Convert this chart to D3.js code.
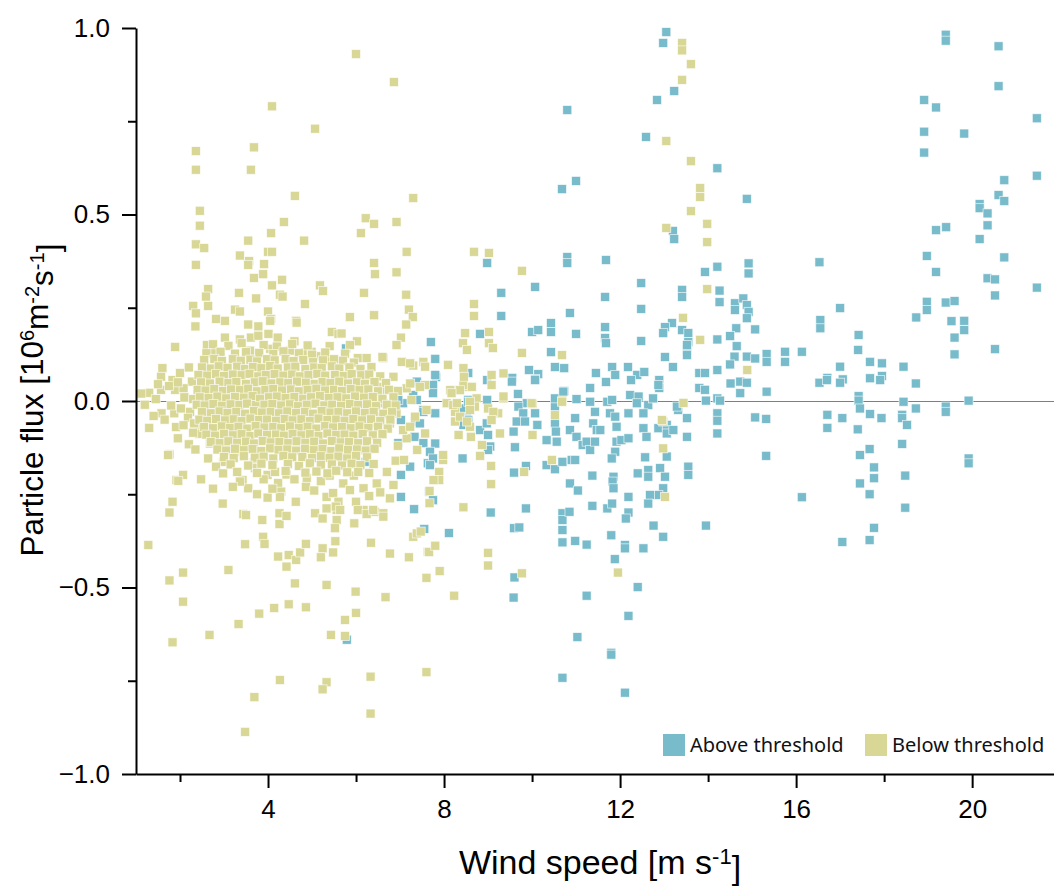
<!DOCTYPE html>
<html>
<head>
<meta charset="utf-8">
<script src="https://cdn.jsdelivr.net/npm/d3@7"></script>
<style>
  html, body { margin: 0; padding: 0; background: #fff; }
  svg { display: block; }
</style>
</head>
<body>
<svg id="chart" width="1054" height="888"></svg>
<script>
// Particle flux vs wind speed, split by a wind-speed threshold.
const seriesNames = ["Above threshold", "Below threshold"];
const seriesColors = ["#78bbcb", "#d8d795"];

const xMajorTicks = [4, 8, 12, 16, 20];
const xMinorTicks = [2, 6, 10, 14, 18];
const yMajorTicks = [-1.0, -0.5, 0.0, 0.5, 1.0];
const yMinorTicks = [-0.75, -0.25, 0.25, 0.75];

// [wind speed (m/s), particle flux (10^6 m^-2 s^-1)]
const aboveThreshold = [
  [13.05,0.989],[12.98,0.96],[13.23,0.831],[12.84,0.807],[10.8,0.78],[12.59,0.708],[10.68,0.568],[11.0,0.59],
  [13.2,0.456],[13.23,0.434],[10.8,0.386],[10.8,0.37],[11.68,0.378],[8.98,0.37],[10.07,0.306],[12.48,0.316],
  [13.41,0.298],[13.41,0.279],[9.3,0.29],[11.66,0.279],[9.3,0.228],[10.86,0.236],[12.48,0.247],[10.43,0.209],
  [10.43,0.185],[10.0,0.185],[10.14,0.19],[11.0,0.18],[11.66,0.198],[11.66,0.169],[11.68,0.155],[12.48,0.161],
  [13.18,0.209],[13.02,0.198],[12.98,0.182],[13.41,0.19],[13.55,0.182],[13.55,0.158],[13.52,0.137],[13.52,0.123],
  [13.52,0.15],[13.93,0.346],[8.82,0.18],[7.7,0.158],[7.8,0.113],[10.43,0.131],[10.52,0.091],[10.73,0.088],
  [9.93,0.083],[10.14,0.072],[10.07,0.059],[9.55,0.062],[11.45,0.075],[11.82,0.091],[11.89,0.07],[11.68,0.051],
  [12.18,0.091],[12.39,0.07],[12.55,0.078],[12.25,0.056],[12.89,0.056],[12.89,0.035],[13.2,0.091],[13.02,0.118],
  [13.8,0.075],[13.8,0.035],[11.32,0.035],[10.73,0.027],[9.68,0.019],[8.55,0.075],[7.82,0.064],[7.39,0.048],
  [7.75,0.035],[8.98,0.056],[7.8,0.07],[7.07,-0.006],[8.55,0.003],[8.52,-0.042],[9.88,-0.006],[10.52,-0.015],
  [10.98,-0.046],[13.32,-0.024],[5.77,0.141],[13.93,0.075],[13.93,0.03],
  [19.4,0.982],[19.4,0.966],[20.6,0.951],[20.6,0.844],[18.91,0.807],[19.18,0.787],[21.47,0.758],[18.91,0.722],
  [19.82,0.717],[18.91,0.666],[14.21,0.624],[21.47,0.604],[20.73,0.592],[14.88,0.542],[20.6,0.552],[20.73,0.536],
  [20.17,0.528],[20.17,0.517],[20.35,0.503],[20.35,0.471],[19.18,0.458],[19.41,0.466],[20.17,0.434],[18.97,0.389],
  [20.73,0.385],[19.18,0.346],[20.35,0.329],[20.52,0.326],[20.52,0.283],[21.47,0.304],[18.97,0.266],[18.97,0.244],
  [18.73,0.224],[19.4,0.264],[19.6,0.268],[19.53,0.214],[19.82,0.215],[19.82,0.19],[19.6,0.17],[19.6,0.125],
  [20.52,0.139],[14.21,0.36],[14.92,0.369],[14.92,0.342],[16.53,0.372],[14.26,0.296],[14.26,0.265],[14.61,0.262],
  [14.61,0.244],[14.8,0.275],[14.88,0.257],[14.92,0.239],[14.88,0.222],[15.07,0.192],[14.64,0.195],[14.5,0.174],
  [14.21,0.165],[14.65,0.147],[14.6,0.119],[14.5,0.098],[14.21,0.083],[14.88,0.119],[15.07,0.114],[15.33,0.126],
  [15.33,0.105],[15.75,0.132],[15.75,0.105],[16.13,0.132],[16.55,0.217],[16.55,0.195],[17.0,0.249],[17.42,0.177],
  [17.41,0.137],[17.68,0.105],[17.95,0.101],[17.95,0.067],[17.68,0.061],[18.44,0.092],[18.72,0.047],[17.0,0.092],
  [17.06,0.058],[16.71,0.062],[16.53,0.049],
  [14.51,0.047],[14.73,0.052],[14.88,0.049],[14.73,0.021],[15.33,0.025],[14.21,0.007],[14.27,0.001],[14.21,-0.033],
  [14.21,-0.053],[14.21,-0.087],[15.07,-0.044],[15.32,-0.048],[15.32,-0.147],[16.13,-0.258],[16.7,0.056],[17.0,0.049],
  [16.71,-0.037],[16.71,-0.072],[17.05,-0.046],[17.42,0.013],[17.42,0.001],[17.45,-0.02],[17.68,-0.035],[17.94,-0.046],
  [17.4,-0.076],[17.67,-0.129],[17.45,-0.145],[17.77,-0.178],[17.77,-0.207],[17.45,-0.221],[17.67,-0.25],[17.77,-0.34],
  [17.67,-0.373],[17.05,-0.378],[18.44,-0.002],[18.72,-0.02],[18.41,-0.037],[18.41,-0.046],[18.52,-0.064],[18.41,-0.115],
  [18.48,-0.2],[18.48,-0.286],[19.4,-0.015],[19.4,-0.029],[19.92,0.001],[19.92,-0.154],[19.92,-0.167],[17.91,0.056],
  [6.32,-0.011],[5.79,-0.14],[6.22,-0.131],[6.22,-0.163],[6.96,0.003],[7.02,-0.051],[6.96,-0.113],[7.3,0.016],
  [7.38,0.052],[7.34,-0.055],[7.45,-0.06],[7.33,-0.096],[7.53,-0.024],[7.53,-0.113],[7.23,-0.176],[7.02,-0.198],
  [7.02,-0.257],[7.32,-0.29],[7.63,-0.167],[7.66,-0.243],[5.79,-0.64],[7.55,-0.343],
  [7.75,0.043],[7.75,0.021],[7.38,0.003],[7.53,-0.029],[7.8,-0.033],[7.8,-0.114],[7.68,-0.136],[7.75,-0.154],
  [7.68,-0.172],[7.75,-0.266],[8.11,-0.354],[8.42,-0.154],[8.44,-0.02],[8.55,-0.051],[8.44,-0.064],[8.82,-0.078],
  [8.97,-0.06],[9.0,-0.091],[9.05,-0.122],[9.0,-0.131],[8.98,0.003],[8.55,-0.002],[9.06,-0.299],[9.54,0.052],
  [9.69,-0.015],[9.8,-0.033],[9.65,-0.055],[9.84,-0.055],[9.58,-0.082],[10.07,-0.033],[10.12,-0.064],[9.61,-0.124],
  [9.86,-0.174],[9.59,-0.192],[9.86,-0.288],[9.59,-0.341],[9.71,-0.339],[9.6,-0.473],[9.58,-0.527],[10.07,0.056],
  [10.33,-0.105],[10.52,-0.06],[10.54,-0.082],[10.56,-0.109],[10.52,0.007],[10.71,0.025],[11.01,0.005],[10.33,-0.172],
  [10.52,-0.183],[10.69,-0.163],[10.9,-0.158],[10.98,-0.158],[10.86,-0.078],[11.01,-0.096],[11.15,-0.118],[11.24,-0.109],
  [11.32,-0.131],[11.43,-0.109],[11.39,-0.06],[11.47,-0.078],[11.55,-0.078],[11.43,-0.029],[11.32,-0.002],[11.71,-0.002],
  [11.82,0.003],[11.77,-0.033],[11.89,-0.042],[11.92,-0.069],[12.19,-0.033],[12.23,0.016],[12.42,0.012],[12.38,-0.006],
  [12.64,-0.011],[12.75,0.007],[12.53,-0.033],[12.53,-0.073],[12.6,-0.096],[12.87,-0.073],[13.06,-0.064],[13.06,-0.087],
  [13.21,-0.078],[13.29,-0.015],[13.52,-0.046],[13.52,-0.096],[12.87,0.043],[13.95,0.001],[11.92,-0.109],[12.03,-0.105],
  [12.19,-0.1],[11.89,-0.136],[11.81,-0.154],[11.85,-0.203],[11.83,-0.216],[11.85,-0.234],[11.37,-0.2],[11.37,-0.281],
  [10.86,-0.221],[11.04,-0.24],[11.71,-0.288],[11.82,-0.275],[12.19,-0.257],[12.19,-0.299],[12.13,-0.315],[12.57,-0.151],
  [12.64,-0.185],[12.64,-0.203],[12.91,-0.18],[13.02,-0.203],[12.98,-0.234],[12.87,-0.252],[12.68,-0.252],[12.64,-0.275],
  [12.4,-0.194],[13.06,-0.149],[13.55,-0.176],[13.55,-0.198],[10.69,-0.301],[10.69,-0.319],[10.69,-0.346],[10.85,-0.297],
  [10.69,-0.379],[10.98,-0.375],[11.24,-0.385],[11.8,-0.36],[12.11,-0.386],[12.11,-0.395],[11.88,-0.424],[12.53,-0.395],
  [12.76,-0.334],[12.98,-0.364],[13.95,-0.334],[12.4,-0.499],[11.24,-0.522],[12.19,-0.576],[11.03,-0.633],[11.8,-0.675],
  [11.8,-0.68],[10.69,-0.742],[12.11,-0.782]
];

const belowThreshold = [
  // scattered points above the main cluster
  [6.0,0.93],[6.86,0.855],[4.09,0.79],[5.07,0.73],[3.68,0.68],[2.36,0.67],[2.36,0.62],[3.61,0.62],[4.61,0.55],
  [4.36,0.48],[4.07,0.45],[4.82,0.43],[3.55,0.43],[2.45,0.51],[2.45,0.47],[2.36,0.42],[2.55,0.41],[3.36,0.39],
  [3.57,0.375],[4.0,0.40],[4.09,0.40],[2.36,0.365],[3.91,0.367],[3.68,0.33],[3.89,0.34],[4.09,0.31],[4.32,0.325],
  [5.18,0.31],[5.25,0.295],[2.64,0.30],[3.34,0.29],[2.59,0.28],[3.73,0.275],[4.27,0.285],[6.11,0.45],
  [6.22,0.49],[6.41,0.475],[6.92,0.48],[7.15,0.40],[6.41,0.37],[6.43,0.34],[6.92,0.345],[6.18,0.29],[7.14,0.285],
  [6.41,0.23],[5.86,0.225],[3.55,0.365],[4.33,0.28],[4.84,0.26],[4.0,0.24],[3.25,0.245],[3.36,0.24],[2.64,0.255],
  [2.3,0.255],[2.36,0.235],[2.82,0.22],[3.02,0.215],[4.07,0.22],[4.64,0.215],[7.3,0.544],
  [8.68,0.4],[9.02,0.397],[9.77,0.349],[8.68,0.26],[8.68,0.228],[8.48,0.182],[9.02,0.185],[8.43,0.155],[8.52,0.137],
  [9.02,0.155],[9.11,0.142],[9.77,0.129],[10.68,0.123],[8.09,0.097],
  [7.2,0.245],[7.29,0.225],[7.14,0.205],[7.02,0.17],[6.92,0.15],[6.62,0.115],[6.02,0.16],[5.86,0.15],[6.04,0.115],
  [6.24,0.115],[7.04,0.105],[7.3,0.095],[7.53,0.105],
  [13.41,0.96],[13.41,0.94],[13.61,0.903],[13.41,0.861],[13.05,0.697],[13.61,0.643],[13.82,0.571],[13.82,0.547],
  [13.61,0.509],[13.05,0.464],[13.98,0.475],[13.98,0.426],[13.43,0.223],[13.82,0.164],[13.98,0.3],[14.89,0.083],
  [3.55,0.205],[3.78,0.2],[4.05,0.215],[4.65,0.21],[2.35,0.2],[1.89,0.145],[3.02,0.17],[3.36,0.165],[3.61,0.17],
  [3.78,0.175],[4.01,0.18],[4.22,0.17],[4.6,0.16],[2.61,0.15],[2.76,0.13],[3.59,0.135],[4.05,0.14],[4.5,0.135],
  [4.84,0.13],[5.11,0.12],[5.41,0.11],[5.6,0.105],[5.45,0.185],[5.6,0.18],[5.67,0.181],[4.99,0.132],[5.79,0.056],
  // left flank
  [1.6,0.088],[1.57,0.065],[1.83,0.056],[2.27,0.052],[1.3,0.022],[1.57,0.03],[1.89,0.03],[2.08,0.034],[1.58,-0.033],
  [1.87,-0.033],[1.3,-0.072],[1.91,-0.07],[2.23,-0.029],[2.45,-0.069],[2.44,-0.088],[2.2,-0.116],[2.68,-0.114],
  [1.76,-0.143],[1.75,0.04],[1.95,0.05],[2.1,0.01],[2.3,0.005],[1.8,-0.012],[2.02,-0.02],[2.18,-0.045],[2.32,-0.06],
  [1.65,-0.05],[2.08,-0.065],[2.3,-0.085],[1.45,0.005],[1.2,-0.01],[1.12,0.02],[2.0,0.075],[2.2,0.09],[1.95,-0.1],
  [2.35,-0.13],[1.5,0.045],[1.4,-0.04],[1.73,-0.145],[1.92,-0.212],
  // lower flank
  [3.02,-0.111],[2.64,-0.154],[2.98,-0.163],[2.82,-0.176],[3.25,-0.136],[3.68,-0.163],[3.7,-0.18],[2.98,-0.194],
  [2.07,-0.198],[1.96,-0.214],[2.48,-0.21],[3.42,-0.212],[3.55,-0.234],[3.99,-0.198],[4.23,-0.22],[4.3,-0.243],
  [4.42,-0.197],[3.99,-0.259],[4.63,-0.27],[4.88,-0.207],[4.86,-0.23],[5.33,-0.257],[5.48,-0.247],[5.71,-0.221],
  [5.86,-0.239],[6.17,-0.234],[6.47,-0.221],[6.77,-0.261],[6.17,-0.292],[6.43,-0.297],[6.62,-0.301],[1.83,-0.27],
  [1.76,-0.299],[2.97,-0.275],[3.44,-0.303],[4.26,-0.301],[5.07,-0.301],[5.56,-0.292],[4.27,-0.257],[4.16,-0.19],
  [3.36,-0.216],[3.9,-0.21],[4.6,-0.21],[5.05,-0.24],[5.2,-0.215],[5.95,-0.2],[6.3,-0.255],[6.55,-0.245],[3.2,-0.23],
  [2.75,-0.235],[5.6,-0.27],[6.0,-0.27],[6.85,-0.225],[4.1,-0.235],[3.75,-0.25],[5.4,-0.2],[6.7,-0.19],[6.9,-0.16],
  [6.95,-0.12],
  [5.75,-0.63],[1.83,-0.647],[2.67,-0.627],[3.33,-0.598],[3.8,-0.57],[4.14,-0.555],[4.47,-0.545],[4.86,-0.553],
  [5.75,-0.587],[6.0,-0.568],[5.43,-0.627],[2.07,-0.538],[4.27,-0.748],[3.69,-0.794],[3.48,-0.887],[5.33,-0.754],
  [5.24,-0.773],[6.33,-0.838],[6.33,-0.739],[7.6,-0.727],[11.95,-0.46],
  [1.28,-0.386],[1.76,-0.481],[2.07,-0.46],[3.1,-0.453],[3.48,-0.384],[3.5,-0.306],[3.87,-0.319],[3.89,-0.364],
  [3.92,-0.383],[4.26,-0.33],[4.42,-0.308],[4.23,-0.417],[4.47,-0.413],[4.42,-0.444],[4.64,-0.426],[4.73,-0.406],
  [4.86,-0.383],[4.61,-0.489],[5.24,-0.315],[5.33,-0.288],[5.54,-0.283],[5.64,-0.292],[5.56,-0.319],[5.52,-0.341],
  [5.24,-0.395],[5.2,-0.419],[5.48,-0.406],[5.53,-0.376],[5.33,-0.493],[5.96,-0.328],[6.04,-0.292],[6.24,-0.303],
  [6.39,-0.292],[6.62,-0.31],[6.34,-0.38],[6.77,-0.409],[7.2,-0.419],[7.3,-0.364],[7.38,-0.355],[7.63,-0.404],
  [7.6,-0.474],[5.99,-0.511],[6.67,-0.526],
  // 7–13 m/s
  [10.01,-0.008],[10.69,0.001],[13.44,-0.005],[12.98,-0.055],[12.98,-0.127],[13.02,-0.257],[10.01,-0.091],
  [10.45,-0.158],[9.82,-0.19],[9.07,-0.174],[9.07,-0.223],[8.44,-0.285],[9.0,-0.407],[9.0,-0.441],[9.77,-0.462],
  [8.23,-0.522],[7.9,-0.456],[7.66,-0.405],[7.8,-0.388],[7.47,-0.35],[7.67,-0.241],[7.67,-0.274],[7.89,-0.19],
  [7.89,-0.212],[7.98,-0.158],[7.98,-0.145],[7.39,-0.131],[8.82,-0.147],[8.61,-0.096],[8.33,-0.091],[8.25,-0.055],
  [8.25,-0.029],[8.06,-0.006],[8.52,0.038],[9.08,0.043],[9.35,0.007],[9.23,-0.033],[9.27,-0.087],[8.86,-0.118],
  [8.59,-0.069],[7.57,-0.087],[7.09,-0.158],[7.15,-0.1],[7.07,-0.078],[7.26,0.003],[7.15,0.034],[7.57,0.043],
  [8.21,0.029],[8.44,0.043],[8.63,0.038],[8.74,0.007],[9.0,-0.02],[8.7,-0.015],[8.21,-0.011],[8.36,-0.042],
  [7.76,-0.212],
  [6.6,0.118],[6.24,0.065],[7.23,0.101],[7.57,0.092],[8.44,0.088],[8.45,0.065],[8.36,0.029],[9.08,0.07],[9.35,0.074],
  [9.35,0.012],[9.12,-0.029],[9.08,-0.051],[8.59,-0.002],[8.14,0.029],[8.29,-0.006],[9.99,-0.006],[10.52,-0.038],
  [10.68,-0.002],[12.95,-0.051],[6.51,0.038],[6.7,0.029],[6.39,0.012],[6.62,-0.006],[6.24,-0.015],[6.85,0.065],
  [7.23,0.047],[7.45,0.038],[7.6,-0.024],[7.34,-0.042],[7.23,-0.069],[6.92,-0.033],[6.77,-0.06],[6.39,-0.06],
  [6.55,-0.042],[8.17,0.021],[8.59,-0.024],[8.52,-0.055],
  // dense core, 2.4–7 m/s
  [2.75,0.152],[3.1,0.148],[3.4,0.155],[3.9,0.15],[4.2,0.146],[4.55,0.153],[4.9,0.149],[5.4,0.147],
  [2.6,0.128],[2.92,0.132],[3.25,0.127],[3.5,0.131],[3.8,0.129],[4.12,0.126],[4.35,0.133],[4.7,0.128],[5.0,0.124],
  [5.3,0.13],[5.75,0.127],
  [2.55,0.11],[2.78,0.113],[2.95,0.107],[3.2,0.112],[3.38,0.108],[3.6,0.111],[3.75,0.106],[3.98,0.112],[4.15,0.109],
  [4.4,0.113],[4.58,0.107],[4.8,0.11],[5.02,0.104],[5.25,0.109],[5.5,0.112],[5.7,0.108],[5.95,0.103],
  [2.5,0.09],[2.7,0.087],[2.88,0.093],[3.08,0.089],[3.3,0.092],[3.48,0.086],[3.66,0.091],[3.85,0.088],[4.05,0.094],
  [4.22,0.087],[4.45,0.09],[4.62,0.092],[4.85,0.086],[5.05,0.09],[5.22,0.088],[5.45,0.093],[5.62,0.087],[5.85,0.09],
  [6.1,0.086],[6.35,0.091],
  [2.42,0.07],[2.62,0.068],[2.82,0.072],[3.0,0.067],[3.2,0.071],[3.4,0.069],[3.58,0.073],[3.78,0.066],[3.95,0.07],
  [4.15,0.072],[4.35,0.068],[4.55,0.071],[4.72,0.066],[4.92,0.07],[5.12,0.073],[5.3,0.068],[5.52,0.07],[5.72,0.067],
  [5.9,0.072],[6.12,0.069],[6.3,0.071],[6.55,0.066],
  [2.48,0.05],[2.68,0.047],[2.9,0.052],[3.1,0.048],[3.28,0.051],[3.5,0.046],[3.7,0.05],[3.88,0.053],[4.08,0.047],
  [4.28,0.05],[4.46,0.048],[4.66,0.052],[4.86,0.049],[5.06,0.046],[5.24,0.051],[5.42,0.048],[5.62,0.052],[5.82,0.047],
  [6.02,0.05],[6.2,0.046],[6.42,0.051],[6.68,0.048],
  [2.4,0.03],[2.58,0.028],[2.78,0.032],[2.98,0.027],[3.16,0.031],[3.36,0.029],[3.55,0.033],[3.75,0.026],[3.94,0.03],
  [4.12,0.032],[4.32,0.028],[4.52,0.031],[4.7,0.026],[4.9,0.03],[5.1,0.033],[5.3,0.028],[5.5,0.03],[5.68,0.027],
  [5.88,0.032],[6.08,0.029],[6.28,0.031],[6.5,0.026],[6.75,0.03],[6.95,0.027],
  [2.45,0.01],[2.65,0.008],[2.85,0.012],[3.05,0.007],[3.25,0.011],[3.45,0.009],[3.65,0.013],[3.82,0.006],[4.02,0.01],
  [4.2,0.012],[4.4,0.008],[4.6,0.011],[4.8,0.006],[4.98,0.01],[5.18,0.013],[5.38,0.008],[5.58,0.01],[5.78,0.007],
  [5.98,0.012],[6.18,0.009],[6.38,0.011],[6.6,0.006],[6.85,0.01],
  [2.38,-0.01],[2.56,-0.012],[2.76,-0.008],[2.95,-0.013],[3.15,-0.009],[3.35,-0.011],[3.52,-0.007],[3.72,-0.014],
  [3.92,-0.01],[4.1,-0.008],[4.3,-0.012],[4.5,-0.009],[4.68,-0.014],[4.88,-0.01],[5.08,-0.007],[5.28,-0.012],
  [5.46,-0.01],[5.66,-0.013],[5.86,-0.008],[6.05,-0.011],[6.25,-0.009],[6.45,-0.014],[6.7,-0.01],[6.9,-0.012],
  [2.5,-0.03],[2.7,-0.033],[2.9,-0.028],[3.08,-0.032],[3.28,-0.029],[3.48,-0.034],[3.68,-0.027],[3.86,-0.031],
  [4.06,-0.03],[4.25,-0.033],[4.44,-0.028],[4.64,-0.032],[4.84,-0.029],[5.02,-0.034],[5.22,-0.027],[5.42,-0.031],
  [5.6,-0.03],[5.8,-0.033],[6.0,-0.028],[6.2,-0.032],[6.4,-0.029],[6.62,-0.034],[6.82,-0.03],
  [2.44,-0.05],[2.62,-0.053],[2.82,-0.048],[3.02,-0.052],[3.22,-0.049],[3.4,-0.054],[3.6,-0.047],[3.8,-0.051],
  [3.98,-0.05],[4.18,-0.053],[4.38,-0.048],[4.56,-0.052],[4.76,-0.049],[4.95,-0.054],[5.15,-0.047],[5.35,-0.051],
  [5.55,-0.05],[5.74,-0.053],[5.94,-0.048],[6.14,-0.052],[6.34,-0.049],[6.55,-0.054],[6.78,-0.05],
  [2.55,-0.07],[2.75,-0.073],[2.95,-0.068],[3.14,-0.072],[3.33,-0.069],[3.53,-0.074],[3.72,-0.067],[3.92,-0.071],
  [4.12,-0.07],[4.3,-0.073],[4.5,-0.068],[4.7,-0.072],[4.9,-0.069],[5.1,-0.074],[5.3,-0.067],[5.48,-0.071],
  [5.68,-0.07],[5.88,-0.073],[6.08,-0.068],[6.28,-0.072],[6.5,-0.069],[6.72,-0.074],
  [2.6,-0.09],[2.8,-0.093],[3.0,-0.088],[3.2,-0.092],[3.4,-0.089],[3.6,-0.094],[3.78,-0.087],[3.98,-0.091],
  [4.18,-0.09],[4.36,-0.093],[4.56,-0.088],[4.76,-0.092],[4.95,-0.089],[5.15,-0.094],[5.35,-0.087],[5.55,-0.091],
  [5.74,-0.09],[5.94,-0.093],[6.15,-0.088],[6.38,-0.092],[6.6,-0.089],
  [2.7,-0.11],[2.9,-0.113],[3.1,-0.108],[3.3,-0.112],[3.5,-0.109],[3.68,-0.114],[3.88,-0.107],[4.06,-0.111],
  [4.26,-0.11],[4.46,-0.113],[4.65,-0.108],[4.85,-0.112],[5.05,-0.109],[5.25,-0.114],[5.45,-0.107],[5.65,-0.111],
  [5.84,-0.11],[6.05,-0.113],[6.25,-0.108],[6.48,-0.112],
  [2.85,-0.13],[3.05,-0.133],[3.25,-0.128],[3.45,-0.132],[3.65,-0.129],[3.85,-0.134],[4.05,-0.127],[4.24,-0.131],
  [4.44,-0.13],[4.64,-0.133],[4.84,-0.128],[5.04,-0.132],[5.24,-0.129],[5.44,-0.134],[5.62,-0.127],[5.82,-0.131],
  [6.02,-0.13],[6.22,-0.133],[6.42,-0.128],
  [3.0,-0.15],[3.22,-0.153],[3.45,-0.148],[3.7,-0.152],[3.9,-0.149],[4.12,-0.154],[4.35,-0.147],[4.55,-0.151],
  [4.78,-0.15],[5.0,-0.153],[5.2,-0.148],[5.4,-0.152],[5.6,-0.149],[5.8,-0.154],[6.0,-0.147],[6.25,-0.151],
  [3.15,-0.17],[3.55,-0.173],[3.85,-0.168],[4.1,-0.172],[4.45,-0.169],[4.7,-0.174],[4.95,-0.167],[5.2,-0.171],
  [5.45,-0.17],[5.68,-0.173],[5.9,-0.168],[6.1,-0.172],[6.4,-0.169],
  [3.3,-0.19],[3.75,-0.193],[4.4,-0.188],[4.85,-0.192],[5.1,-0.189],[5.35,-0.194],[5.55,-0.187],[5.8,-0.191],
  [6.05,-0.19],[6.3,-0.193]
];

const series = [aboveThreshold, belowThreshold];

const width = 1054, height = 888;
const plot = { left: 136, right: 1054, top: 28, bottom: 774 };

const svg = d3.select("#chart");

const x = d3.scaleLinear().domain([1, 21.86]).range([plot.left, plot.right]);
const y = d3.scaleLinear().domain([-1, 1]).range([plot.bottom, plot.top]);

const tickFont = "'Liberation Sans', Arial, sans-serif";

// zero reference line
svg.append("line")
  .attr("x1", plot.left).attr("x2", plot.right)
  .attr("y1", y(0) + 0.5).attr("y2", y(0) + 0.5)
  .attr("stroke", "#7f7f7f").attr("stroke-width", 1);

// markers: above-threshold first, below-threshold drawn over it
const markerSize = 9;
series.forEach((pts, i) => {
  svg.append("g")
    .selectAll("rect")
    .data(pts)
    .join("rect")
    .attr("x", d => x(d[0]) - markerSize / 2)
    .attr("y", d => y(d[1]) - markerSize / 2)
    .attr("width", markerSize)
    .attr("height", markerSize)
    .attr("fill", seriesColors[i])
    .attr("stroke", "#ffffff")
    .attr("stroke-opacity", 0.75)
    .attr("stroke-width", 0.8);
});

function styleAxis(g) {
  g.select(".domain").attr("stroke", "#000").attr("stroke-width", 2);
  g.selectAll(".tick line").attr("stroke", "#000").attr("stroke-width", 2);
  g.selectAll(".tick text")
    .attr("fill", "#000")
    .style("font-family", tickFont)
    .style("font-size", "26px");
}

// x axis
svg.append("g")
  .attr("transform", `translate(0,${plot.bottom})`)
  .call(d3.axisBottom(x).tickValues(xMinorTicks).tickSize(8).tickSizeOuter(0).tickFormat(""))
  .call(g => { g.select(".domain").remove(); g.selectAll(".tick line").attr("stroke", "#000").attr("stroke-width", 2); });

svg.append("g")
  .attr("transform", `translate(0,${plot.bottom})`)
  .call(d3.axisBottom(x).tickValues(xMajorTicks).tickSize(14).tickSizeOuter(0).tickPadding(12).tickFormat(d3.format("d")))
  .call(styleAxis);

// y axis
svg.append("g")
  .attr("transform", `translate(${plot.left},0)`)
  .call(d3.axisLeft(y).tickValues(yMinorTicks).tickSize(8).tickSizeOuter(0).tickFormat(""))
  .call(g => { g.select(".domain").remove(); g.selectAll(".tick line").attr("stroke", "#000").attr("stroke-width", 2); });

svg.append("g")
  .attr("transform", `translate(${plot.left},0)`)
  .call(d3.axisLeft(y).tickValues(yMajorTicks).tickSize(14).tickSizeOuter(0).tickPadding(12).tickFormat(d3.format(".1f")))
  .call(styleAxis);

// axis titles
const titleFont = "'Liberation Sans', Arial, sans-serif";

const xTitle = svg.append("text")
  .attr("x", 600).attr("y", 874)
  .attr("text-anchor", "middle")
  .style("font-family", titleFont).style("font-size", "34px").attr("fill", "#000");
xTitle.append("tspan").text("Wind speed [m s");
xTitle.append("tspan").attr("dy", "-0.45em").style("font-size", "22px").text("-1");
xTitle.append("tspan").attr("dy", "0.45em").text("]");

const yTitle = svg.append("text")
  .attr("transform", "translate(43,400) rotate(-90)")
  .attr("text-anchor", "middle")
  .style("font-family", titleFont).style("font-size", "31.5px").attr("fill", "#000");
yTitle.append("tspan").text("Particle flux [10");
yTitle.append("tspan").attr("dy", "-0.45em").style("font-size", "20px").text("6");
yTitle.append("tspan").attr("dy", "0.45em").text("m");
yTitle.append("tspan").attr("dy", "-0.45em").style("font-size", "20px").text("-2");
yTitle.append("tspan").attr("dy", "0.45em").text("s");
yTitle.append("tspan").attr("dy", "-0.45em").style("font-size", "20px").text("-1");
yTitle.append("tspan").attr("dy", "0.45em").text("]");

// legend
const legendItems = [
  { name: seriesNames[0], color: seriesColors[0], x: 663 },
  { name: seriesNames[1], color: seriesColors[1], x: 865 }
];
const legend = svg.append("g");
legendItems.forEach(item => {
  legend.append("rect")
    .attr("x", item.x).attr("y", 734)
    .attr("width", 22).attr("height", 22)
    .attr("fill", item.color);
  legend.append("text")
    .attr("x", item.x + 27).attr("y", 752)
    .style("font-family", "'Noto Sans', 'Open Sans', sans-serif")
    .style("font-size", "20px")
    .attr("fill", "#111")
    .text(item.name);
});
</script>
</body>
</html>
